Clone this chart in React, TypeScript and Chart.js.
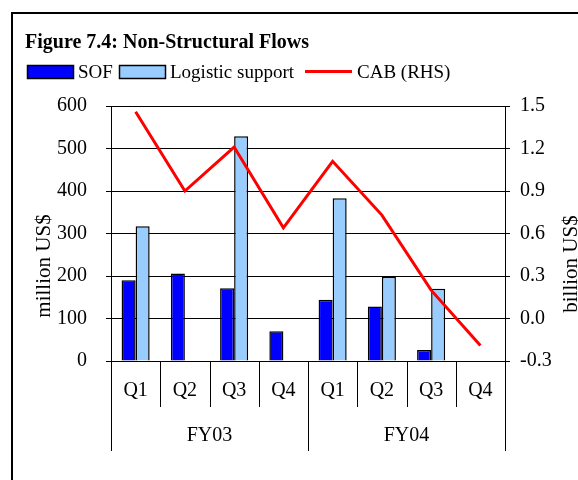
import React, { useEffect, useRef } from "react";
import { Chart, registerables } from "chart.js";

Chart.register(...registerables);

const titleText = "Figure 7.4: Non-Structural Flows";
const quarters = ["Q1", "Q2", "Q3", "Q4", "Q1", "Q2", "Q3", "Q4"];
const fiscalYears = ["FY03", "FY04"];
const sofValues: (number | null)[] = [190, 206, 171, 70, 144, 128, 26, null];
const logisticValues: (number | null)[] = [317, null, 529, null, 383, 198, 170, null];
const cabValues: number[] = [1.46, 0.9, 1.21, 0.64, 1.11, 0.73, 0.2, -0.19];
const leftAxisTitle = "million US$";
const rightAxisTitle = "billion US$";
const legendLabels = ["SOF", "Logistic support", "CAB (RHS)"];

const SERIF = '"Liberation Serif", "Times New Roman", Times, serif';
const SOF_COLOR = "#0000FF";
const LOG_COLOR = "#99CCFF";
const CAB_COLOR = "#FF0000";

const decorPlugin = {
  id: "decor",
  afterDraw(chart: any) {
    const ctx: CanvasRenderingContext2D = chart.ctx;
    const { left, right, bottom } = chart.chartArea;
    const xScale = chart.scales.x;
    ctx.save();

    // outer frame (top and left edges)
    ctx.fillStyle = "#000";
    ctx.fillRect(11, 12, 567, 2);
    ctx.fillRect(11, 12, 2, 468);

    // title
    ctx.fillStyle = "#000";
    ctx.font = `bold 20px ${SERIF}`;
    ctx.textAlign = "left";
    ctx.textBaseline = "alphabetic";
    ctx.fillText(titleText, 25, 48);

    // legend
    ctx.font = `19px ${SERIF}`;
    ctx.lineWidth = 1.5;
    ctx.strokeStyle = "#000";
    ctx.fillStyle = SOF_COLOR;
    ctx.fillRect(27.5, 65.5, 46, 13);
    ctx.strokeRect(27.5, 65.5, 46, 13);
    ctx.fillStyle = "#000";
    ctx.fillText(legendLabels[0], 78, 78);
    ctx.fillStyle = LOG_COLOR;
    ctx.fillRect(119.5, 65.5, 46, 13);
    ctx.strokeRect(119.5, 65.5, 46, 13);
    ctx.fillStyle = "#000";
    ctx.fillText(legendLabels[1], 170, 78);
    ctx.strokeStyle = CAB_COLOR;
    ctx.lineWidth = 3;
    ctx.beginPath();
    ctx.moveTo(305, 71.5);
    ctx.lineTo(352, 71.5);
    ctx.stroke();
    ctx.fillStyle = "#000";
    ctx.fillText(legendLabels[2], 357, 78);

    // category axis separators
    const n = quarters.length;
    const perYear = n / fiscalYears.length;
    const step = (right - left) / n;
    ctx.strokeStyle = "#000";
    ctx.lineWidth = 1;
    for (let k = 0; k <= n; k++) {
      const px = Math.round(left + k * step) + 0.5;
      const len = k % perYear === 0 ? 90 : 46;
      ctx.beginPath();
      ctx.moveTo(px, bottom);
      ctx.lineTo(px, bottom + len);
      ctx.stroke();
    }

    // quarter labels
    ctx.fillStyle = "#000";
    ctx.font = `20px ${SERIF}`;
    ctx.textAlign = "center";
    ctx.textBaseline = "middle";
    for (let i = 0; i < n; i++) {
      ctx.fillText(quarters[i], xScale.getPixelForTick(i), bottom + 30);
    }
    // fiscal year labels
    for (let j = 0; j < fiscalYears.length; j++) {
      const a = xScale.getPixelForTick(j * perYear);
      const b = xScale.getPixelForTick(j * perYear + perYear - 1);
      ctx.fillText(fiscalYears[j], (a + b) / 2, bottom + 75);
    }

    // axis titles
    ctx.font = `21px ${SERIF}`;
    ctx.save();
    ctx.translate(44, 266);
    ctx.rotate(-Math.PI / 2);
    ctx.fillText(leftAxisTitle, 0, 0);
    ctx.restore();
    ctx.save();
    ctx.translate(571, 264);
    ctx.rotate(-Math.PI / 2);
    ctx.fillText(rightAxisTitle, 0, 0);
    ctx.restore();

    ctx.restore();
  },
};

export default function App() {
  const ref = useRef<HTMLCanvasElement | null>(null);

  useEffect(() => {
    if (!ref.current) return;
    const chart = new Chart(ref.current, {
      type: "bar",
      data: {
        labels: quarters,
        datasets: [
          {
            type: "line",
            label: legendLabels[2],
            data: cabValues,
            yAxisID: "y1",
            borderColor: CAB_COLOR,
            backgroundColor: CAB_COLOR,
            borderWidth: 3,
            pointRadius: 0,
            tension: 0,
            order: 0,
          } as any,
          {
            label: legendLabels[0],
            data: sofValues,
            yAxisID: "y",
            backgroundColor: SOF_COLOR,
            borderColor: "#000",
            borderWidth: 1.5,
            categoryPercentage: 0.57,
            barPercentage: 1,
            order: 1,
          },
          {
            label: legendLabels[1],
            data: logisticValues,
            yAxisID: "y",
            backgroundColor: LOG_COLOR,
            borderColor: "#000",
            borderWidth: 1.5,
            categoryPercentage: 0.57,
            barPercentage: 1,
            order: 2,
          },
        ],
      },
      options: {
        responsive: false,
        animation: false,
        devicePixelRatio: 1,
        layout: { padding: { top: 106, left: 0, right: 0, bottom: 0 } },
        plugins: {
          legend: { display: false },
          title: { display: false },
          tooltip: { enabled: false },
        },
        scales: {
          x: {
            offset: true,
            grid: { display: false },
            border: { display: false },
            ticks: { display: false },
            afterFit: (s: any) => {
              s.height = 119;
            },
          },
          y: {
            position: "left",
            min: 0,
            max: 600,
            ticks: {
              stepSize: 100,
              color: "#000",
              font: { family: SERIF, size: 20 },
              padding: 19,
            },
            grid: { color: "#000", lineWidth: 1, tickLength: 5, drawTicks: true },
            border: { color: "#000", width: 1 },
            afterFit: (s: any) => {
              s.width = 111;
            },
          },
          y1: {
            position: "right",
            min: -0.3,
            max: 1.5,
            ticks: {
              stepSize: 0.3,
              color: "#000",
              font: { family: SERIF, size: 20 },
              padding: 10,
              callback: (v: any) => {
                const n = Number(v);
                return Math.abs(n) < 1e-9 ? "0.0" : n.toFixed(1);
              },
            },
            grid: { drawOnChartArea: false, color: "#000", tickLength: 5, drawTicks: true },
            border: { color: "#000", width: 1 },
            afterFit: (s: any) => {
              s.width = 73;
            },
          },
        },
      } as any,
      plugins: [decorPlugin],
    });
    return () => chart.destroy();
  }, []);

  return (
    <div style={{ position: "fixed", left: 0, top: 0, width: 578, height: 480, background: "#fff" }}>
      <canvas ref={ref} width={578} height={480} style={{ display: "block" }} />
    </div>
  );
}
